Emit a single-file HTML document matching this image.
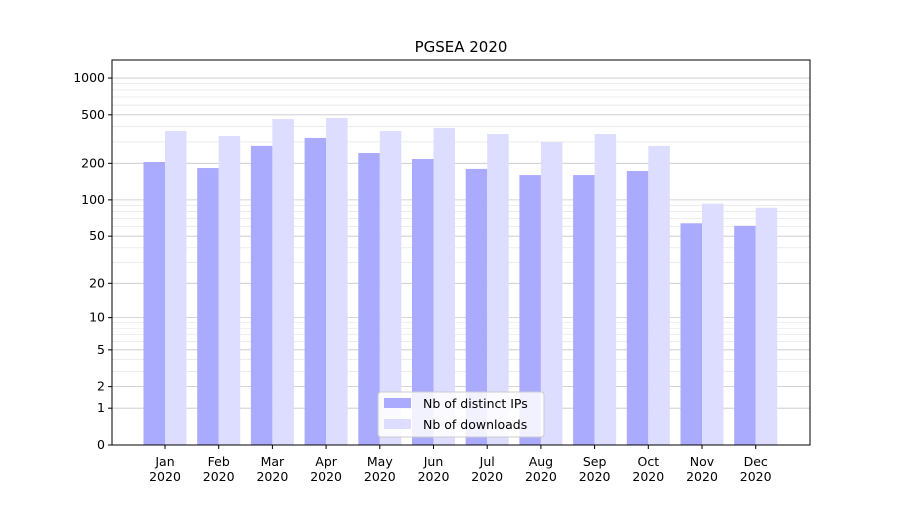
<!DOCTYPE html>
<html><head><meta charset="utf-8"><style>body{margin:0;background:#fff}svg{font-family:"DejaVu Sans","Liberation Sans",sans-serif}</style></head>
<body>
<svg id="c" width="900" height="500"></svg>
<script>
const categories=["Jan","Feb","Mar","Apr","May","Jun","Jul","Aug","Sep","Oct","Nov","Dec"];
const ipValues=[205,183,278,323,243,217,180,160,160,173,64,61];
const downloadValues=[368,335,462,471,368,390,348,299,348,278,93,86];
const tickValues=[0,1,2,5,10,20,50,100,200,500,1000];
const tickLabels=["0","1","2","5","10","20","50","100","200","500","1000"];
const NS="http://www.w3.org/2000/svg",svg=document.getElementById('c');
function el(t,a,p){const e=document.createElementNS(NS,t);for(const k in a)e.setAttribute(k,a[k]);(p||svg).appendChild(e);return e;}
const L=112,R=810,T=60,B=445,k=122.3;
const y=v=>B-Math.log10(1+v)*k;
const x0=165,dx=53.7,bw=21.5;
const xc=i=>x0+i*dx;
const minor=[];
for(const d of [1,10,100,1000])for(let m=2;m<=9;m++){const v=m*d;if(y(v)>T)minor.push(v);}
minor.forEach(v=>{const g=el('line',{x1:L,x2:R,y1:y(v),y2:y(v),stroke:'#e6e6e6','stroke-width':0.7});});
tickValues.forEach((v,i)=>{const yy=y(v);
const g=el('line',{x1:L,x2:R,y1:yy,y2:yy,stroke:'#c8c8c8','stroke-width':0.8});
el('line',{x1:L-4,x2:L,y1:yy,y2:yy,stroke:'#000'});
const t=el('text',{x:L-7,y:yy+4,'text-anchor':'end','font-size':12.5});t.textContent=tickLabels[i];});
categories.forEach((c,i)=>{
const b1=el('rect',{x:xc(i)-bw,y:y(ipValues[i]),width:bw,height:B-y(ipValues[i]),fill:'#aaaaff'});
const b2=el('rect',{x:xc(i),y:y(downloadValues[i]),width:bw,height:B-y(downloadValues[i]),fill:'#ddddff'});
el('line',{x1:xc(i),x2:xc(i),y1:B,y2:B+4,stroke:'#000'});
const t=el('text',{x:xc(i),y:B+21,'text-anchor':'middle','font-size':12.5});t.textContent=c;
const t2=el('text',{x:xc(i),y:B+36,'text-anchor':'middle','font-size':12.5});t2.textContent='2020';});
const f=el('rect',{x:L,y:T,width:R-L,height:B-T,fill:'none',stroke:'#000','stroke-width':1});
const tt=el('text',{x:461,y:52,'text-anchor':'middle','font-size':15});tt.textContent='PGSEA 2020';
const lg=el('g',{});
el('rect',{x:378,y:392,width:166,height:45,fill:'#fff','fill-opacity':0.85,stroke:'#ccc',rx:3},lg);
el('rect',{x:384,y:398,width:27,height:10,fill:'#aaaaff'},lg);
el('rect',{x:384,y:419,width:27,height:10,fill:'#ddddff'},lg);
const l1=el('text',{x:423,y:408,'font-size':12.5},lg);l1.textContent='Nb of distinct IPs';
const l2=el('text',{x:423,y:429,'font-size':12.5},lg);l2.textContent='Nb of downloads';
</script>
</body></html>
